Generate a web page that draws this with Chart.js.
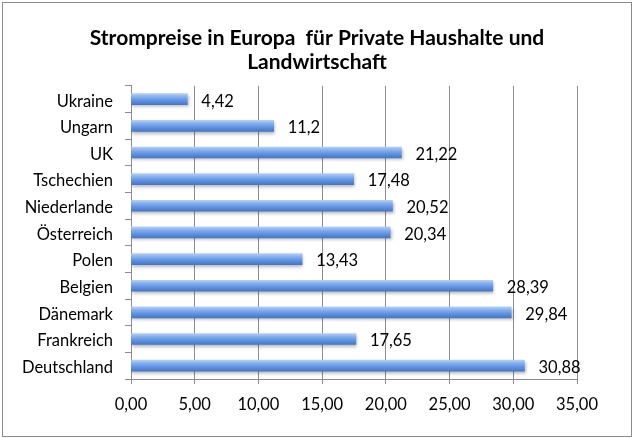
<!DOCTYPE html>
<html>
<head>
<meta charset="utf-8">
<script src="https://cdn.jsdelivr.net/npm/chart.js@4/dist/chart.umd.min.js"></script>
<style>
  html, body { margin: 0; padding: 0; background: #fff; }
  #wrap { width: 634px; height: 438px; }
</style>
</head>
<body>
<div id="wrap"><canvas id="chart" width="634" height="438"></canvas></div>
<script>
/* global Chart */
const countries = ['Ukraine', 'Ungarn', 'UK', 'Tschechien', 'Niederlande', 'Österreich',
  'Polen', 'Belgien', 'Dänemark', 'Frankreich', 'Deutschland'];
const prices = [4.42, 11.2, 21.22, 17.48, 20.52, 20.34, 13.43, 28.39, 29.84, 17.65, 30.88];
const titleLines = ['Strompreise in Europa  für Private Haushalte und', 'Landwirtschaft'];

const FONT = 'Lato';
const BAR_H = 11;
const LABEL_SIZE = 16.5;

const deNum = (v) => String(v).replace('.', ',');

// gradient per bar, light on top, darker below
function barFill(c) {
  const chart = c.chart;
  const y = chart.scales.y;
  if (!y || c.dataIndex === undefined) return '#5b8fe0';
  const cy = y.getPixelForValue(c.dataIndex);
  if (!isFinite(cy)) return '#5b8fe0';
  const g = chart.ctx.createLinearGradient(0, cy - BAR_H / 2, 0, cy + BAR_H / 2);
  g.addColorStop(0, '#b3cff5');
  g.addColorStop(0.3, '#84aeec');
  g.addColorStop(0.65, '#5c90e1');
  g.addColorStop(1, '#4677c6');
  return g;
}

const frame = {
  id: 'frame',
  afterDraw(chart) {
    const ctx = chart.ctx;
    ctx.save();
    ctx.strokeStyle = '#8a8a8a';
    ctx.lineWidth = 1;
    ctx.strokeRect(2.5, 2.5, chart.width - 5, chart.height - 4);
    ctx.restore();
  }
};

const barShadow = {
  id: 'barShadow',
  beforeDatasetsDraw(chart) {
    const ctx = chart.ctx;
    ctx.save();
    ctx.shadowColor = 'rgba(0,0,0,0.28)';
    ctx.shadowOffsetY = 2;
    ctx.shadowOffsetX = 1;
    ctx.shadowBlur = 3;
  },
  afterDatasetsDraw(chart) {
    chart.ctx.restore();
  }
};

const valueLabels = {
  id: 'valueLabels',
  afterDatasetsDraw(chart) {
    const ctx = chart.ctx;
    const meta = chart.getDatasetMeta(0);
    ctx.save();
    ctx.font = LABEL_SIZE + 'px ' + FONT;
    ctx.fillStyle = '#000';
    ctx.textAlign = 'left';
    ctx.textBaseline = 'middle';
    meta.data.forEach((bar, i) => {
      ctx.fillText(deNum(prices[i]), bar.x + 14, bar.y + 2);
    });
    ctx.restore();
  }
};

new Chart(document.getElementById('chart'), {
  type: 'bar',
  data: {
    labels: countries,
    datasets: [{
      data: prices,
      backgroundColor: barFill,
      borderWidth: 0,
      barThickness: BAR_H
    }]
  },
  options: {
    indexAxis: 'y',
    responsive: false,
    animation: false,
    layout: { padding: 0 },
    plugins: {
      legend: { display: false },
      tooltip: { enabled: false },
      title: {
        display: true,
        text: titleLines,
        color: '#000',
        font: { family: FONT, size: 21, weight: 'bold', lineHeight: 1.14 },
        padding: { top: 26, bottom: 12 }
      }
    },
    scales: {
      x: {
        min: 0, max: 35,
        ticks: {
          stepSize: 5, color: '#000', padding: 11,
          font: { family: FONT, size: LABEL_SIZE },
          callback: (v) => v.toFixed(2).replace('.', ',')
        },
        grid: { color: '#8c8c8c', tickLength: 5, tickColor: '#8c8c8c' },
        border: { color: '#8c8c8c' },
        afterFit: (s) => { s.height = 59; }
      },
      y: {
        ticks: { color: '#000', padding: 12, labelOffset: 2, font: { family: FONT, size: LABEL_SIZE } },
        grid: { drawOnChartArea: false, tickLength: 6, color: '#8c8c8c' },
        border: { color: '#8c8c8c' },
        afterFit: (s) => { s.width = 131; }
      },
      // empty spacer on the right so the plot ends at 35,00 while the title stays centred
      spacer: {
        axis: 'y',
        position: 'right',
        grid: { display: false },
        border: { display: false },
        ticks: { display: false },
        afterFit: (s) => { s.width = 57; }
      }
    }
  },
  plugins: [frame, barShadow, valueLabels]
});
</script>
</body>
</html>
